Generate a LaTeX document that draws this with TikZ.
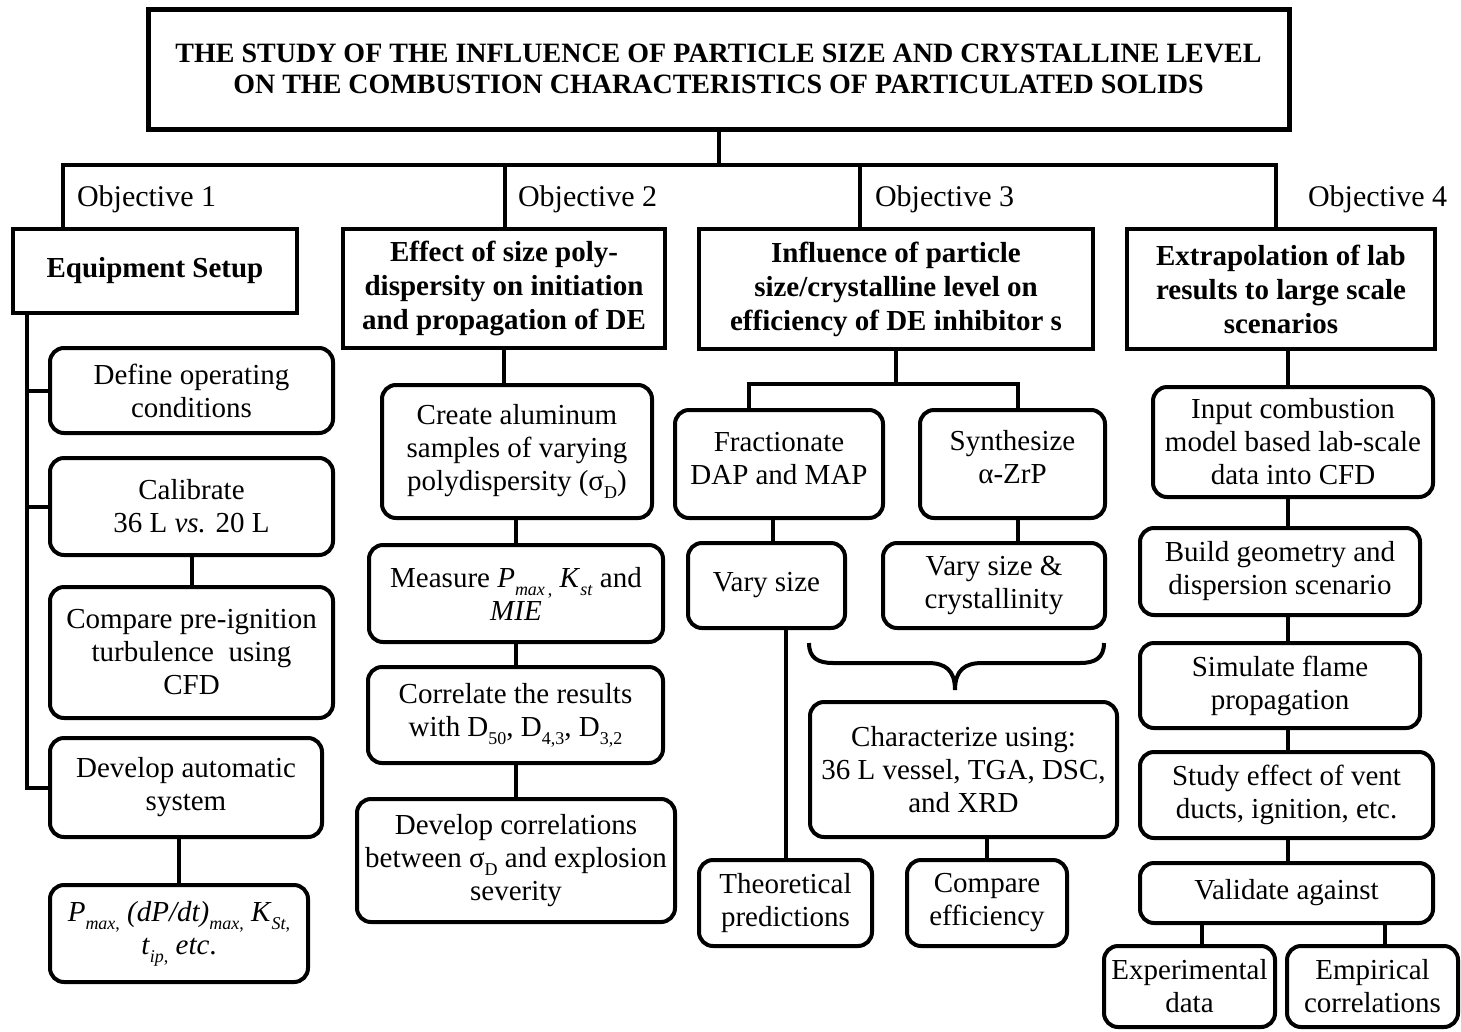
\documentclass[tikz,border=0pt]{standalone}
\usepackage{fontspec}
\setmainfont{Liberation Serif}
\newcommand\bodyf{\fontsize{29}{33}\selectfont}
\newcommand\headf{\fontsize{29}{34}\selectfont\bfseries}
\newcommand\titlef{\fontsize{28}{31}\selectfont\bfseries}
\newcommand\objf{\fontsize{30}{30}\selectfont}
\newcommand\sbs[1]{\raisebox{-0.28em}{\fontsize{18}{18}\selectfont #1}}
\begin{document}
\begin{tikzpicture}[x=1pt,y=-1pt,
  every node/.style={inner sep=0pt, outer sep=0pt},
  sbox/.style={draw, line width=4pt, align=center, font=\headf},
  rbox/.style={draw, line width=4pt, rounded corners=14pt, align=center, font=\bodyf},
  conn/.style={line width=4pt},
  objlab/.style={anchor=base west, font=\objf}]
\useasboundingbox[fill=white] (0,0) rectangle (1461,1031);

% title
\node[draw, line width=5pt, align=center, font=\titlef, minimum width=1141pt, minimum height=120pt] (title) at (718.5,69)
  {THE STUDY OF THE INFLUENCE OF PARTICLE SIZE AND CRYSTALLINE LEVEL\\ON THE COMBUSTION CHARACTERISTICS OF PARTICULATED SOLIDS};

% objective heads
\node[sbox, minimum width=284pt, minimum height=84pt] (equip) at (155,271) {Equipment Setup};
\node[sbox, minimum width=322pt, minimum height=119pt] (effect) at (504,288.5) {Effect of size poly-\\dispersity on initiation\\and propagation of DE};
\node[sbox, minimum width=394pt, minimum height=120pt] (influence) at (896,289) {Influence of particle\\size/crystalline level on\\efficiency of DE inhibitor s};
\node[sbox, minimum width=308pt, minimum height=120pt] (extrap) at (1281,289) {Extrapolation of lab\\results to large scale\\scenarios};

\node[objlab] (o1) at (77,206) {Objective 1};
\node[objlab] (o2) at (518,206) {Objective 2};
\node[objlab] (o3) at (875,206) {Objective 3};
\node[objlab] (o4) at (1308,206) {Objective 4};

% column 1
\node[rbox, minimum width=283pt, minimum height=85pt] (define) at (191.5,390.5) {Define operating\\conditions};
\node[rbox, minimum width=283pt, minimum height=97pt] (calib) at (191.5,506.5) {Calibrate\\36 L \textit{vs.} 20 L};
\node[rbox, minimum width=283pt, minimum height=131pt] (compare) at (191.5,652.5) {Compare pre-ignition\\turbulence\ \ using\\CFD};
\node[rbox, minimum width=272pt, minimum height=99pt] (develop) at (186,787.5) {Develop automatic\\system};
\node[rbox, minimum width=258pt, minimum height=97pt] (pmax) at (179,933.5)
  {\textit{P}\sbs{\textit{max},} \textit{(dP/dt)}\sbs{\textit{max},} \textit{K}\sbs{\textit{St},}\\\textit{t}\sbs{\textit{ip},} \textit{etc}.};

% column 2
\node[rbox, minimum width=270pt, minimum height=133pt] (create) at (517,451.5) {Create aluminum\\samples of varying\\polydispersity (σ\sbs{D})};
\node[rbox, minimum width=294pt, minimum height=97pt] (measure) at (516,593.5) {Measure \textit{P}\sbs{\textit{max}\,,} \textit{K}\sbs{\textit{st}} and\\\textit{MIE}};
\node[rbox, minimum width=295pt, minimum height=96pt] (correl) at (515.5,715) {Correlate the results\\with D\sbs{50}, D\sbs{4,3}, D\sbs{3,2}};
\node[rbox, minimum width=318pt, minimum height=123pt] (devcorr) at (516,860.5) {Develop correlations\\between σ\sbs{D} and explosion\\severity};

% column 3
\node[rbox, minimum width=208pt, minimum height=108pt] (fract) at (779,464) {Fractionate\\DAP and MAP\\[-22pt]\mbox{}};
\node[rbox, minimum width=185pt, minimum height=108pt] (synth) at (1012.5,464) {Synthesize\\α-ZrP\\[-18pt]\mbox{}};
\node[rbox, minimum width=157pt, minimum height=85pt] (varysize) at (766.5,585.5) {Vary size};
\node[rbox, minimum width=222pt, minimum height=85pt] (varysc) at (994,585.5) {Vary size \&\\crystallinity};
\node[rbox, minimum width=307pt, minimum height=135pt] (charact) at (963.5,769.5) {Characterize using:\\36 L vessel, TGA, DSC,\\and XRD};
\node[rbox, minimum width=173pt, minimum height=86pt] (theor) at (785.5,903) {Theoretical\\predictions};
\node[rbox, minimum width=160pt, minimum height=86pt] (compeff) at (987,903) {Compare\\efficiency};

% column 4
\node[rbox, minimum width=280pt, minimum height=110pt] (input) at (1293,442) {Input combustion\\model based lab-scale\\data into CFD};
\node[rbox, minimum width=280pt, minimum height=87pt] (build) at (1280,571.5) {Build geometry and\\dispersion scenario};
\node[rbox, minimum width=280pt, minimum height=85pt] (simul) at (1280,685.5) {Simulate flame\\propagation};
\node[rbox, minimum width=293pt, minimum height=86pt] (study) at (1286.5,795) {Study effect of vent\\ducts, ignition, etc.};
\node[rbox, minimum width=293pt, minimum height=60pt] (valid) at (1286.5,893) {Validate against};
\node[rbox, minimum width=171pt, minimum height=81pt] (exper) at (1189.5,986.5) {Experimental\\data};
\node[rbox, minimum width=171pt, minimum height=81pt] (empir) at (1372.5,986.5) {Empirical\\correlations};

% helper coordinates
\coordinate (hub) at (718.5,165);
\coordinate (h1) at (63,165);
\coordinate (h2) at (505,165);
\coordinate (h3) at (860,165);
\coordinate (h4) at (1276,165);
\coordinate (v1) at (27,0);
\coordinate (s3) at (896,384);
\coordinate (f3) at (749,384);
\coordinate (y3) at (1018,384);
\coordinate (fv) at (773,0);
\coordinate (c4) at (1288,0);
\coordinate (e4) at (1202,0);
\coordinate (m4) at (1385,0);

% top connectors
\draw[conn] (title.south) -- (hub);
\draw[conn] (equip.north -| h1) -- (h1) -- (h4) -- (extrap.north -| h4);
\draw[conn] (h2) -- (effect.north -| h2);
\draw[conn] (h3) -- (influence.north -| h3);

% column 1 connectors
\draw[conn] (equip.south -| v1) -- (v1 |- develop.west) -- (develop.west);
\draw[conn] (v1 |- define.west) -- (define.west);
\draw[conn] (v1 |- calib.west) -- (calib.west);
\draw[conn] (calib.south) -- (compare.north);
\draw[conn] (pmax.north |- develop.south) -- (pmax.north);

% column 2 connectors
\draw[conn] (effect.south) -- (effect.south |- create.north);
\draw[conn] (create.south -| measure.north) -- (measure.north);
\draw[conn] (measure.south) -- (measure.south |- correl.north);
\draw[conn] (correl.south -| devcorr.north) -- (devcorr.north);

% column 3 connectors
\draw[conn] (influence.south) -- (s3);
\draw[conn] (fract.north -| f3) -- (f3) -- (y3) -- (synth.north -| y3);
\draw[conn] (fract.south -| fv) -- (varysize.north -| fv);
\draw[conn] (synth.south -| y3) -- (varysc.north -| y3);
\draw[conn] (varysize.south -| theor.north) -- (theor.north);
\draw[conn] (compeff.north |- charact.south) -- (compeff.north);
\draw[conn] (809,643) .. controls (809,658) and (818,663) .. (833,663) -- (928,663)
  .. controls (945,663) and (955,670) .. (955,690)
  .. controls (955,670) and (965,663) .. (982,663) -- (1080,663)
  .. controls (1095,663) and (1104,658) .. (1104,643);

% column 4 connectors
\draw[conn] (extrap.south -| c4) -- (input.north -| c4);
\draw[conn] (input.south -| c4) -- (build.north -| c4);
\draw[conn] (build.south -| c4) -- (simul.north -| c4);
\draw[conn] (simul.south -| c4) -- (study.north -| c4);
\draw[conn] (study.south -| c4) -- (valid.north -| c4);
\draw[conn] (valid.south -| e4) -- (exper.north -| e4);
\draw[conn] (valid.south -| m4) -- (empir.north -| m4);
\end{tikzpicture}
\end{document}
